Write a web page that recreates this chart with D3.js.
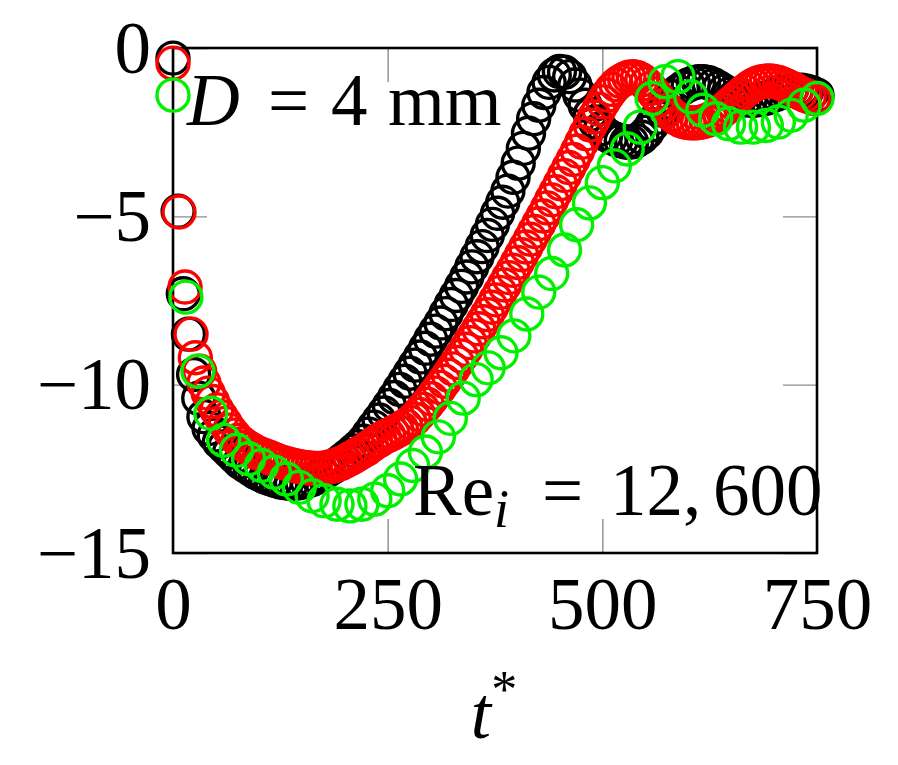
<!DOCTYPE html>
<meta charset="utf-8">
<style>
body { margin: 0; background: #fff; }
svg { font-family: "Liberation Serif", "Times New Roman", serif; }
.tick line { stroke: #8c8c8c; stroke-width: 1.4; }
.axis path { display: none; }
.axis text { font-family: "Liberation Serif", "Times New Roman", serif; font-size: 73px; fill: #000; }
</style>
<svg width="898" height="765"></svg>
<script src="https://d3js.org/d3.v7.min.js"></script>
<script>

// tick labels
var xTicks = [0, 250, 500, 750];
var yTicks = [0, -5, -10, -15];

// black series
var blackT = [0,6,12,18,24,30,36,42,48,54,60,66,72,78,84,90,96,102,108,114,120,126,132,138,144,150,
  156,162,168,174,180,186,192,198,204,210,216,222,228,234,240,246,252,258,264,270,276,282,288,294,300,
  306,312,318,324,330,336,342,348,354,360,366,372,378,384,390,396,402,408,414,420,426,432,438,444,450,
  456,462,468,474,480,486,492,498,504,510,516,522,528,534,540,546,552,558,564,570,576,582,588,594,600,
  606,612,618,624,630,636,642,648,654,660,666,672,678,684,690,696,702,708,714,720,726,732,738,744,750];
var blackY = [-0.3,-4.85,-7.3,-8.5,-9.7,-10.4,-10.95,-11.3,-11.5,-11.7,-11.85,-12.0,-12.15,-12.3,-12.4,-12.5,
  -12.6,-12.68,-12.75,-12.8,-12.85,-12.9,-12.92,-12.93,-12.93,-12.9,
  -12.87,-12.82,-12.74,-12.65,-12.55,-12.45,-12.34,-12.22,-12.1,-11.97,-11.84,-11.68,-11.47,-11.26,-11.05,
  -10.84,-10.62,-10.38,-10.14,-9.9,-9.66,-9.42,-9.18,-8.92,-8.65,
  -8.41,-8.17,-7.89,-7.62,-7.35,-7.08,-6.8,-6.5,-6.2,-5.9,-5.57,-5.24,-4.91,-4.58,-4.25,-3.84,-3.42,
  -2.98,-2.53,-2.1,-1.7,-1.32,-1.02,-0.8,-0.7,
  -0.72,-0.85,-1.1,-1.4,-1.7,-1.97,-2.2,-2.4,-2.56,-2.65,-2.72,-2.76,-2.8,-2.79,-2.75,-2.65,-2.5,-2.28,
  -2.06,-1.85,-1.64,-1.45,-1.29,-1.18,-1.1,
  -1.04,-1.0,-1.0,-1.03,-1.1,-1.19,-1.28,-1.37,-1.45,-1.5,-1.54,-1.55,-1.55,-1.53,-1.5,-1.44,-1.38,-1.32,
  -1.28,-1.25,-1.25,-1.25,-1.28,-1.33,-1.4];

// red series
var redT = [0,7,14,21,26,31,36,41,46,51,56,61,66,71,76,81,86,91,96,101,106,111,116,121,126,131,136,141,
  146,151,156,161,166,171,176,181,186,191,196,201,206,211,216,221,226,231,236,241,246,251,256,261,266,
  271,276,281,286,291,296,301,306,311,316,321,326,331,336,341,346,351,356,361,366,371,376,381,386,391,
  396,401,406,411,416,421,426,431,436,441,446,451,456,461,466,471,476,481,486,491,496,501,506,511,516,
  521,526,531,536,541,546,551,556,561,566,571,576,581,586,591,596,601,606,611,616,621,626,631,636,641,
  646,651,656,661,666,671,676,681,686,691,696,701,706,711,716,721,726,731,736,741,746];
var redY = [-0.45,-4.87,-7.1,-8.5,-9.2,-9.6,-9.95,-10.25,-10.5,-10.75,-10.95,-11.15,-11.35,-11.5,-11.65,
  -11.75,-11.85,-11.92,-12.0,-12.05,-12.1,-12.15,-12.2,-12.25,-12.3,-12.33,-12.37,-12.4,
  -12.43,-12.45,-12.47,-12.48,-12.49,-12.49,-12.48,-12.45,-12.42,-12.38,-12.33,-12.27,-12.2,-12.13,-12.05,
  -11.98,-11.9,-11.81,-11.72,-11.64,-11.56,-11.5,-11.44,-11.37,-11.3,
  -11.22,-11.12,-11.02,-10.88,-10.73,-10.58,-10.42,-10.25,-10.08,-9.9,-9.72,-9.53,-9.34,-9.15,-8.95,-8.75,
  -8.55,-8.34,-8.13,-7.92,-7.7,-7.48,-7.26,-7.04,-6.82,
  -6.6,-6.37,-6.14,-5.91,-5.68,-5.45,-5.22,-4.99,-4.75,-4.51,-4.27,-4.03,-3.79,-3.55,-3.31,-3.06,-2.8,
  -2.55,-2.29,-2.05,-1.82,-1.6,-1.4,-1.23,-1.09,
  -0.99,-0.92,-0.87,-0.85,-0.88,-0.95,-1.06,-1.2,-1.36,-1.53,-1.7,-1.85,-1.98,-2.08,-2.15,-2.2,-2.22,
  -2.23,-2.22,-2.2,-2.16,-2.1,-2.03,-1.94,-1.84,
  -1.73,-1.62,-1.5,-1.39,-1.28,-1.18,-1.1,-1.04,-1.0,-0.98,-0.98,-1.0,-1.03,-1.08,-1.14,-1.2,-1.27,-1.34,
  -1.4,-1.45,-1.5];

// green series
var greenT = [0,15,29,44,59,74,88,103,118,132,147,162,176,191,206,220,235,250,265,279,294,309,323,338,
  353,367,382,397,412,426,441,456,470,485,500,514,529,544,558,573,588,603,617,632,647,661,676,691,705,
  720,735,750];
var greenY = [-1.4,-7.4,-9.6,-10.85,-11.65,-11.95,-12.2,-12.4,-12.6,-12.8,-13.05,-13.3,-13.45,-13.55,-13.6,
  -13.55,-13.4,-13.15,-12.8,-12.4,-12.0,-11.55,-11.0,-10.4,-9.85,-9.5,-9.05,-8.55,-7.9,-7.25,-6.7,-6.0,
  -5.25,-4.6,-4.0,-3.5,-3.0,-2.35,-1.5,-1.0,-0.85,-1.45,-1.85,-2.1,-2.25,-2.35,-2.35,-2.3,-2.2,-2.0,-1.7,
  -1.5];

var svg = d3.select("svg");
var mLeft = 173, mRight = 817, mTop = 48, mBottom = 553;

var x = d3.scaleLinear().domain([0, 750]).range([mLeft, mRight]);
var y = d3.scaleLinear().domain([-15, 0]).range([mBottom, mTop]);

// axes with inward grey ticks
svg.append("g")
    .attr("class", "axis")
    .attr("transform", "translate(0," + mBottom + ")")
    .call(d3.axisBottom(x).tickValues(xTicks).tickSizeInner(-34).tickSizeOuter(0).tickPadding(0))
  .selectAll("text")
    .attr("y", 76)
    .attr("dy", 0);

svg.append("g")
    .attr("class", "axis")
    .attr("transform", "translate(" + mLeft + ",0)")
    .call(d3.axisLeft(y).tickValues(yTicks).tickSizeInner(-34).tickSizeOuter(0).tickPadding(0))
  .selectAll("text")
    .attr("x", -22)
    .attr("dy", "0.33em");

svg.append("g")
    .attr("class", "axis")
    .attr("transform", "translate(0," + mTop + ")")
    .call(d3.axisTop(x).tickValues(xTicks).tickSizeInner(-34).tickSizeOuter(0).tickFormat(""));

svg.append("g")
    .attr("class", "axis")
    .attr("transform", "translate(" + mRight + ",0)")
    .call(d3.axisRight(y).tickValues(yTicks).tickSizeInner(-34).tickSizeOuter(0).tickFormat(""));

// frame
svg.append("rect")
    .attr("x", mLeft)
    .attr("y", mTop)
    .attr("width", mRight - mLeft)
    .attr("height", mBottom - mTop)
    .attr("fill", "none")
    .attr("stroke", "#000")
    .attr("stroke-width", 2.6);

function drawSeries(ts, ys, color) {
  svg.append("g")
    .selectAll("circle")
    .data(ts)
    .enter()
    .append("circle")
      .attr("cx", function(d) { return x(d); })
      .attr("cy", function(d, i) { return y(ys[i]); })
      .attr("r", 16)
      .attr("fill", "none")
      .attr("stroke", color)
      .attr("stroke-width", 3.4);
}

drawSeries(blackT, blackY, "#000000");
drawSeries(redT, redY, "#ff0000");
drawSeries(greenT, greenY, "#00f000");

// annotations (math-style spacing)
var t1 = svg.append("text").attr("y", 125).attr("font-size", 73);
t1.append("tspan").attr("x", 187).attr("font-style", "italic").text("D");
t1.append("tspan").attr("x", 268).text("=");
t1.append("tspan").attr("x", 331).text("4");
t1.append("tspan").attr("x", 388).text("mm");

var t2 = svg.append("text").attr("y", 515).attr("font-size", 73);
t2.append("tspan").attr("x", 413).text("Re");
t2.append("tspan").attr("x", 494).attr("font-style", "italic").attr("font-size", 54).attr("dy", 12).text("i");
t2.append("tspan").attr("x", 542).attr("dy", -12).text("=");
t2.append("tspan").attr("x", 610).text("12,");
t2.append("tspan").attr("x", 713).text("600");

// x label
var t3 = svg.append("text")
    .attr("x", 494)
    .attr("y", 738)
    .attr("text-anchor", "middle")
    .attr("font-size", 73);
t3.append("tspan").attr("font-style", "italic").text("t");
t3.append("tspan").attr("font-size", 52).attr("dy", -31).text("*");

</script>
